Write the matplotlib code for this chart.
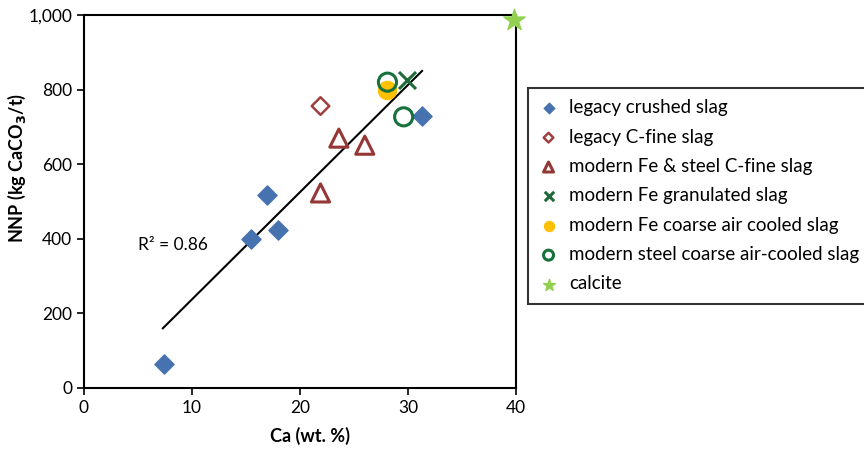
import numpy as np
import matplotlib
matplotlib.use("Agg")
import matplotlib.pyplot as plt
from matplotlib.ticker import FuncFormatter

plt.rcParams["font.family"] = ["Lato", "DejaVu Sans"]

# Valores (Ca em wt.%, NNP em kg CaCO3/t)
legacy_crushed_x = [7.4, 15.5, 16.9, 18.0, 31.3]
legacy_crushed_y = [64, 400, 518, 424, 729]

legacy_cfine_x = [21.9]
legacy_cfine_y = [756]

modern_cfine_x = [21.9, 23.6, 26.0]
modern_cfine_y = [523, 670, 651]

fe_gran_x = [29.9]
fe_gran_y = [826]

fe_coarse_x = [28.1]
fe_coarse_y = [799]

steel_coarse_x = [28.1, 29.6]
steel_coarse_y = [820, 727]

calcite_x = [39.8]
calcite_y = [987]

# linha de tendência
trend_x = [7.3, 31.3]
trend_y = [160, 850]
r2_text = "R² = 0.86"

fig = plt.figure(figsize=(8.64, 4.51), dpi=100)
ax = fig.add_axes([0.0972, 0.1397, 0.5, 0.827])

ax.plot(trend_x, trend_y, color="black", lw=1.5, zorder=2)

ax.scatter(legacy_crushed_x, legacy_crushed_y, marker="D", s=95,
           color="#4672B0", label="legacy crushed slag", zorder=3)
ax.scatter(legacy_cfine_x, legacy_cfine_y, marker="D", s=80,
           facecolor="none", edgecolor="#A0403E", linewidths=1.8,
           label="legacy C-fine slag", zorder=3)
ax.scatter(modern_cfine_x, modern_cfine_y, marker="^", s=170,
           facecolor="none", edgecolor="#953735", linewidths=2.2,
           label="modern Fe & steel C-fine slag", zorder=3)
ax.scatter(fe_gran_x, fe_gran_y, marker="x", s=150, color="#1E6B3A",
           linewidths=2.2, label="modern Fe granulated slag", zorder=3)
ax.scatter(fe_coarse_x, fe_coarse_y, marker="o", s=170, color="#FFC000",
           label="modern Fe coarse air cooled slag", zorder=3)
ax.scatter(steel_coarse_x, steel_coarse_y, marker="o", s=170,
           facecolor="none", edgecolor="#16713A", linewidths=2.2,
           label="modern steel coarse air-cooled slag", zorder=4)
ax.scatter(calcite_x, calcite_y, marker="*", s=260, color="#92D050",
           label="calcite", zorder=3, clip_on=False)

ax.text(5.0, 370, r2_text, fontsize=12.5)

ax.set_xlim(0, 40)
ax.set_ylim(0, 1000)
ax.set_xticks(np.arange(0, 41, 10))
ax.set_yticks(np.arange(0, 1001, 200))
ax.yaxis.set_major_formatter(FuncFormatter(lambda v, p: f"{int(v):,}"))
ax.tick_params(direction="out", length=5, width=1.2, labelsize=12.5,
               colors="black")
for spine in ax.spines.values():
    spine.set_linewidth(1.5)

ax.set_xlabel("Ca (wt. %)", fontsize=13, fontweight="bold")
ax.set_ylabel(r"NNP (kg CaCO$_\mathbf{3}$/t)", fontsize=13, fontweight="bold")
ax.xaxis.set_label_coords(0.523, -0.105)
ax.yaxis.set_label_coords(-0.13, 0.59)

leg = fig.legend(loc="upper left", bbox_to_anchor=(0.611, 0.805),
                 borderaxespad=0, frameon=True, fancybox=False,
                 edgecolor="black", fontsize=13.5, handlelength=1.0,
                 handletextpad=0.6, labelspacing=0.66, borderpad=0.6,
                 markerscale=0.55)
leg.get_frame().set_linewidth(1.5)

plt.savefig("out.png", dpi=100)
plt.close()
